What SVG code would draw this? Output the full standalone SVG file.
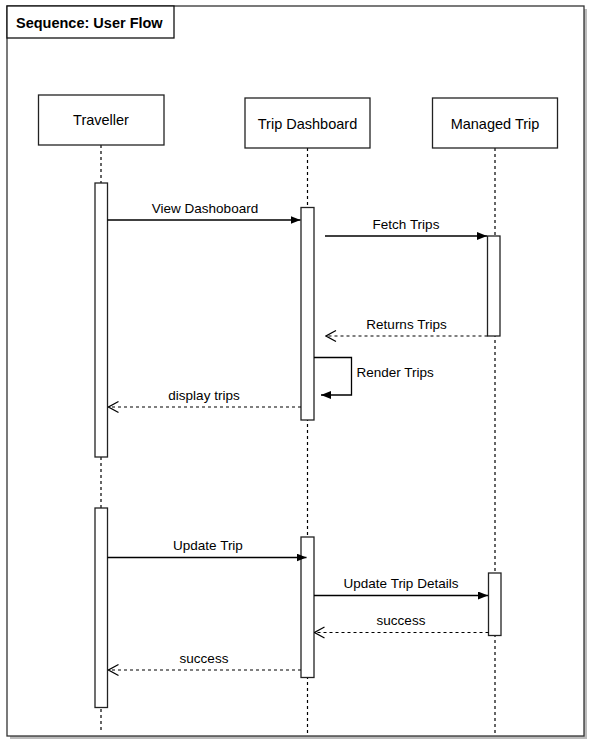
<svg xmlns="http://www.w3.org/2000/svg" width="594" height="747" viewBox="0 0 594 747">
<style>
.box{fill:#fff;stroke:#222;stroke-width:1.3}
.act{fill:#fff;stroke:#222;stroke-width:1.3}
.life{stroke:#000;stroke-width:1.2;stroke-dasharray:3 3;fill:none}
.msg{stroke:#000;stroke-width:1.3;fill:none}
.ret{stroke:#000;stroke-width:1.2;fill:none;stroke-dasharray:3 3}
.node{font-family:"Liberation Sans",Arial,sans-serif;font-size:14.5px;fill:#000;text-anchor:middle}
.lbl{font-family:"Liberation Sans",Arial,sans-serif;font-size:13.5px;fill:#000;text-anchor:middle}
.title{font-family:"Liberation Sans",Arial,sans-serif;font-size:14.5px;font-weight:bold;fill:#000}
</style>
<defs>
<marker id="fill" viewBox="0 0 10 8" refX="10" refY="4" markerWidth="10" markerHeight="8" markerUnits="userSpaceOnUse" orient="auto">
<path d="M0,0 L10,4 L0,8 z" fill="#000"/>
</marker>
<marker id="open" viewBox="0 0 12 14" refX="11" refY="7" markerWidth="12" markerHeight="14" markerUnits="userSpaceOnUse" orient="auto">
<path d="M1,1.5 L11,7 L1,12.5" fill="none" stroke="#000" stroke-width="1.2"/>
</marker>
</defs>
<rect width="594" height="747" fill="#fff"/>
<g id="frame">
<rect x="10" y="9" width="577" height="730" fill="#bbb"/>
<rect x="7" y="6" width="577" height="730" fill="#fff" stroke="#333" stroke-width="1.3"/>
<rect x="7" y="6" width="167" height="32" fill="#fff" stroke="#111" stroke-width="1.3"/>
<text class="title" x="16" y="28">Sequence: User Flow</text>
</g>
<g id="lifelines">
<line class="life" x1="101" y1="145" x2="101" y2="731"/>
<line class="life" x1="307.5" y1="148" x2="307.5" y2="736"/>
<line class="life" x1="495" y1="148" x2="495" y2="736"/>
</g>
<g id="traveller">
<rect class="box" x="38.5" y="95" width="125.5" height="50"/>
<text class="node" x="101" y="125">Traveller</text>
</g>
<g id="trip-dashboard">
<rect class="box" x="245" y="98" width="125" height="50"/>
<text class="node" x="307.5" y="129">Trip Dashboard</text>
</g>
<g id="managed-trip">
<rect class="box" x="432.5" y="98" width="125" height="50"/>
<text class="node" x="495" y="129">Managed Trip</text>
</g>
<g id="activations">
<rect class="act" x="95" y="183" width="12.5" height="274"/>
<rect class="act" x="95" y="508" width="12.5" height="199.5"/>
<rect class="act" x="301" y="207.5" width="13" height="212.5"/>
<rect class="act" x="301" y="537" width="13" height="140.5"/>
<rect class="act" x="487.5" y="236" width="12.5" height="100"/>
<rect class="act" x="488.5" y="573" width="12.5" height="62.5"/>
</g>
<g id="connectors">
<line class="msg" x1="107.5" y1="220" x2="300.5" y2="220" marker-end="url(#fill)"/>
<line class="msg" x1="325" y1="236" x2="487" y2="236" marker-end="url(#fill)"/>
<line class="ret" x1="487.5" y1="336" x2="326" y2="336" marker-end="url(#open)"/>
<polyline class="msg" points="314,357.5 351.5,357.5 351.5,395 321,395" marker-end="url(#fill)"/>
<line class="ret" x1="301" y1="407" x2="108.5" y2="407" marker-end="url(#open)"/>
<line class="msg" x1="107.5" y1="557.5" x2="306.5" y2="557.5" marker-end="url(#fill)"/>
<line class="msg" x1="314" y1="595.5" x2="488" y2="595.5" marker-end="url(#fill)"/>
<line class="ret" x1="488.5" y1="632.5" x2="314.5" y2="632.5" marker-end="url(#open)"/>
<line class="ret" x1="301" y1="670" x2="108.5" y2="670" marker-end="url(#open)"/>
</g>
<g id="labels">
<text class="lbl" x="205" y="212.7">View Dashoboard</text>
<text class="lbl" x="406" y="228.7">Fetch Trips</text>
<text class="lbl" x="406.5" y="328.7">Returns Trips</text>
<text class="lbl" x="356.5" y="377.4" text-anchor="start" style="text-anchor:start">Render Trips</text>
<text class="lbl" x="204" y="399.7">display trips</text>
<text class="lbl" x="208" y="549.7">Update Trip</text>
<text class="lbl" x="401" y="587.7">Update Trip Details</text>
<text class="lbl" x="401" y="624.7">success</text>
<text class="lbl" x="204" y="662.7">success</text>
</g>
</svg>
